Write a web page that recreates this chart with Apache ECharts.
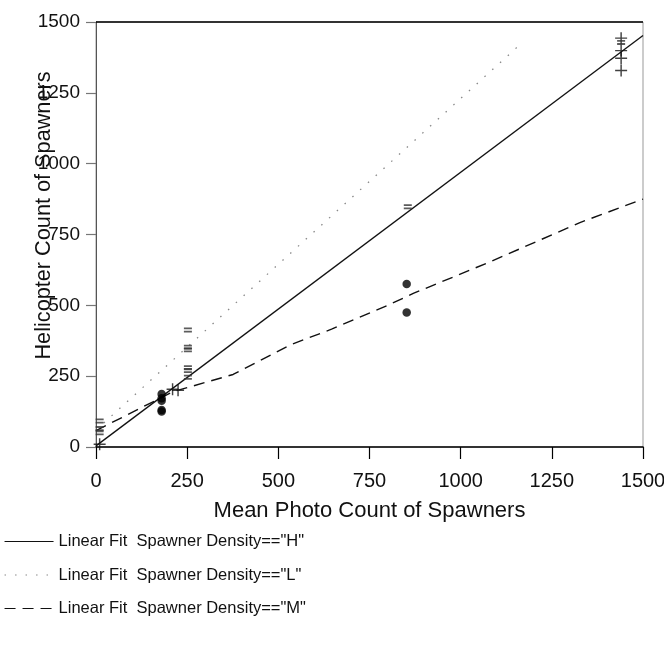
<!DOCTYPE html>
<html>
<head>
<meta charset="utf-8">
<script src="https://cdn.jsdelivr.net/npm/echarts@6/dist/echarts.min.js"></script>
<style>html,body{margin:0;padding:0;background:#fff;}#c{width:664px;height:646px;}</style>
</head>
<body>
<div id="c"></div>
<script>
// Axis ticks
const xTicks = [0, 250, 500, 750, 1000, 1250, 1500];
const yTicks = [0, 250, 500, 750, 1000, 1250, 1500];

// Spawner density H (plus markers)
const hPhoto = [10, 210, 225, 1440, 1440, 1440, 1440];
const hHeli  = [10, 204, 200, 1329, 1372, 1399, 1443];
// Spawner density L (double-dash markers)
const lPhoto = [10, 10, 10, 252, 252, 252, 252, 252, 252, 855, 1440];
const lHeli  = [50, 65, 92, 246, 270, 280, 343, 352, 413, 848, 1428];
// Spawner density M (filled dots)
const mPhoto = [180, 180, 180, 180, 180, 852, 852];
const mHeli  = [125, 131, 163, 172, 187, 475, 575];

// Fit lines
const hFitX = [0, 1500];
const hFitY = [4, 1452];
const lFitX = [0, 1165];
const lFitY = [60, 1423];
const mFitX = [0, 211, 376, 532, 646, 797, 870, 1076, 1327, 1500];
const mFitY = [58, 195, 256, 360, 416, 498, 542, 651, 792, 875];

const legendNames = ['Linear Fit  Spawner Density=="H"', 'Linear Fit  Spawner Density=="L"', 'Linear Fit  Spawner Density=="M"'];

const zip = (a, b) => a.map((v, i) => [v, b[i]]);
const FONT = '"Liberation Sans", Arial, sans-serif';

const chart = echarts.init(document.getElementById('c'));
chart.setOption({
  animation: false,
  backgroundColor: '#fff',
  textStyle: { fontFamily: FONT, color: '#000' },
  grid: { left: 96, right: 21, top: 22, bottom: 199, show: true, borderColor: '#999', borderWidth: 1,
          outerBoundsMode: 'none', containLabel: false },
  xAxis: {
    type: 'value', min: xTicks[0], max: xTicks[xTicks.length - 1], interval: 250,
    name: 'Mean Photo Count of Spawners', nameLocation: 'middle', nameGap: 53, nameMoveOverlap: false,
    nameTextStyle: { fontSize: 22, color: '#111', fontFamily: FONT },
    axisLine: { show: true, onZero: false, lineStyle: { color: '#000', width: 1.6 } },
    axisTick: { show: true, length: 12, lineStyle: { color: '#000', width: 1.2 } },
    axisLabel: { fontSize: 20, color: '#111', margin: 24, fontFamily: FONT, formatter: v => String(v) },
    splitLine: { show: false }
  },
  yAxis: {
    type: 'value', min: yTicks[0], max: yTicks[yTicks.length - 1], interval: 250,
    name: 'Helicopter Count of Spawners', nameLocation: 'middle', nameGap: 41, nameMoveOverlap: false,
    nameTextStyle: { fontSize: 21.7, color: '#111', fontFamily: FONT, padding: [0, 0, 0, 38] },
    axisLine: { show: true, onZero: false, lineStyle: { color: '#555', width: 1 } },
    axisTick: { show: true, length: 10, lineStyle: { color: '#777', width: 1.2 } },
    axisLabel: { fontSize: 19, color: '#111', margin: 16, fontFamily: FONT, formatter: v => String(v) },
    splitLine: { show: false }
  },
  graphic: [{
    type: 'line', shape: { x1: 96, y1: 22, x2: 643, y2: 22 }, style: { stroke: '#000', lineWidth: 1.6 }, z: 10
  }],
  legend: {
    orient: 'vertical', left: 4, top: 533, padding: 0, itemWidth: 49, itemHeight: 14, itemGap: 16.5,
    data: legendNames,
    itemStyle: { opacity: 0 },
    lineStyle: { width: 1.1 },
    textStyle: { fontSize: 16.5, color: '#111', fontFamily: FONT },
    selectedMode: false
  },
  series: [
    { name: legendNames[0], type: 'line', symbol: 'none', data: zip(hFitX, hFitY),
      itemStyle: { color: '#111' },
      lineStyle: { color: '#111', width: 1.3, type: 'solid' }, z: 3 },
    { name: legendNames[1], type: 'line', symbol: 'none', data: zip(lFitX, lFitY),
      itemStyle: { color: '#888' },
      lineStyle: { color: '#888', width: 1.3, type: [1.5, 9] }, z: 3 },
    { name: legendNames[2], type: 'line', symbol: 'none', data: zip(mFitX, mFitY),
      itemStyle: { color: '#111' },
      lineStyle: { color: '#111', width: 1.4, type: [11, 7] }, z: 3 },
    { name: 'H points', type: 'scatter', data: zip(hPhoto, hHeli),
      symbol: 'path://M0,4.4H10V5.6H0Z M4.4,0H5.6V10H4.4Z', symbolSize: 12,
      itemStyle: { color: '#111' }, z: 4 },
    { name: 'L points', type: 'scatter', data: zip(lPhoto, lHeli),
      symbol: 'path://M0,0H10V1.8H0Z M0,3.2H10V5H0Z', symbolSize: [8, 5],
      itemStyle: { color: '#333' }, z: 4 },
    { name: 'M points', type: 'scatter', data: zip(mPhoto, mHeli),
      symbol: 'circle', symbolSize: 8.5,
      itemStyle: { color: '#000' }, z: 4 }
  ]
});
</script>
</body>
</html>
